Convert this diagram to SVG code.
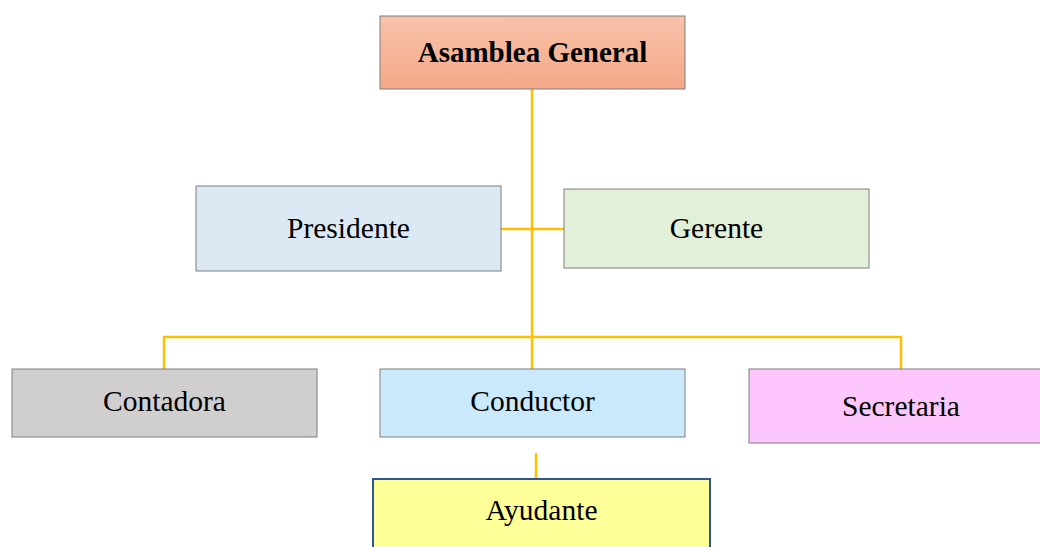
<svg xmlns="http://www.w3.org/2000/svg" width="1040" height="547" viewBox="0 0 1040 547">
<style>
.box{stroke:#7f7f7f;stroke-width:1}
.t{font-family:"Liberation Serif","Times New Roman",serif;font-size:29.5px;fill:#000;text-anchor:middle}
.b{font-weight:bold;font-size:29px}
.c{fill:none;stroke:#ffc000;stroke-width:2.5}
</style>
<defs>
<linearGradient id="peach" x1="0" y1="0" x2="0" y2="1">
<stop offset="0" stop-color="#f8c2aa"/>
<stop offset="1" stop-color="#f4a888"/>
</linearGradient>
</defs>
<rect width="1040" height="547" fill="#fff"/>
<g id="connectors">
<path class="c" d="M532 89 V369"/>
<path class="c" d="M501 229 H564"/>
<path class="c" d="M164 369 V337 H901 V369"/>
<path class="c" d="M536 453 V478"/>
</g>
<g id="asamblea">
<rect class="box" x="380" y="16" width="305" height="73" fill="url(#peach)"/>
<text class="t b" x="532.5" y="62">Asamblea General</text>
</g>
<g id="presidente">
<rect class="box" x="196" y="186" width="305" height="85" fill="#dde8f5"/>
<text class="t" x="348.5" y="238">Presidente</text>
</g>
<g id="gerente">
<rect class="box" x="564" y="189" width="305" height="79" fill="#e2efd9"/>
<text class="t" x="716.5" y="238">Gerente</text>
</g>
<g id="contadora">
<rect class="box" x="12" y="369" width="305" height="68" fill="#d0cece"/>
<text class="t" x="164.5" y="411">Contadora</text>
</g>
<g id="conductor">
<rect class="box" x="380" y="369" width="305" height="68" fill="#cbe9fc"/>
<text class="t" x="532.5" y="411">Conductor</text>
</g>
<g id="secretaria">
<rect class="box" x="749" y="369" width="300" height="74" fill="#fdc7fd"/>
<text class="t" x="901" y="416">Secretaria</text>
</g>
<g id="ayudante">
<rect x="373" y="479" width="337" height="80" fill="#ffff99" stroke="#2f5597" stroke-width="2"/>
<text class="t" x="541.5" y="520">Ayudante</text>
</g>
</svg>
